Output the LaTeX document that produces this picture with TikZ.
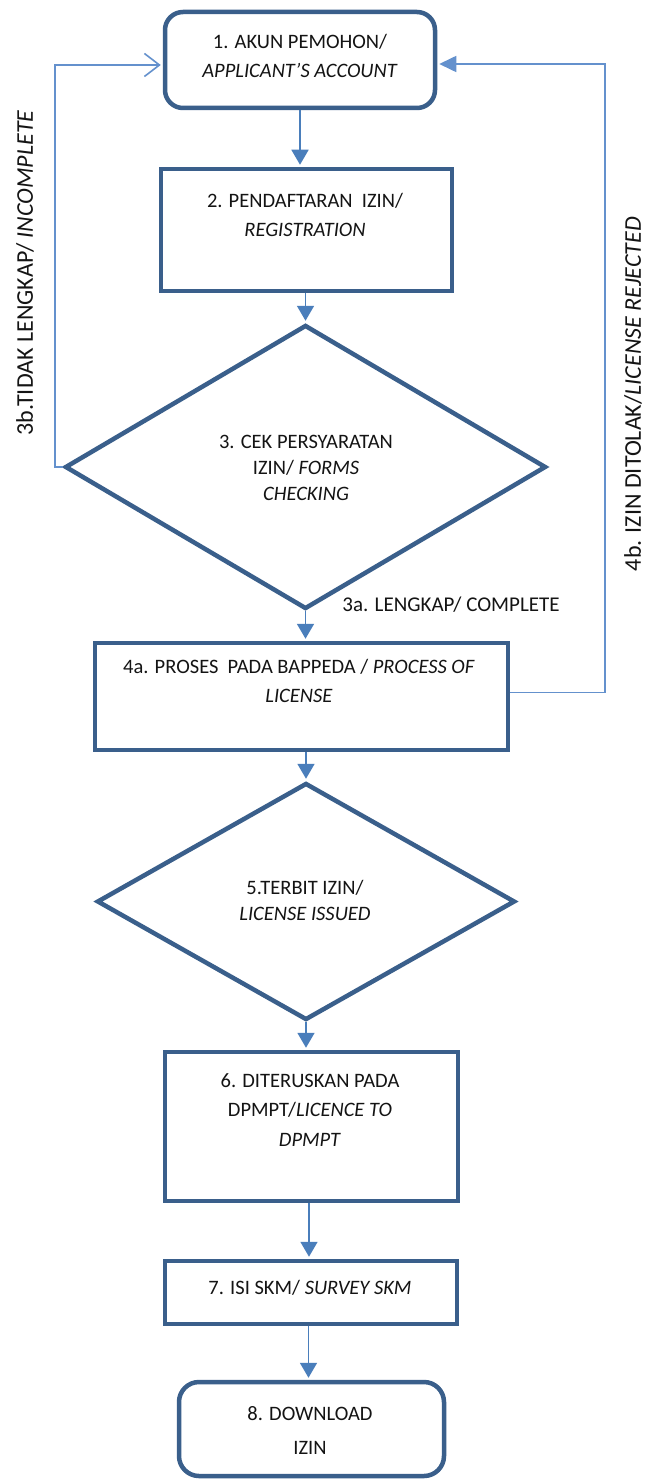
\documentclass[tikz,border=0pt]{standalone}
\usepackage{fontspec}
\setmainfont{Carlito}
\usetikzlibrary{shapes.geometric,arrows.meta,calc}
\definecolor{boxblue}{RGB}{58,95,139}
\definecolor{arrowblue}{RGB}{74,126,187}
\definecolor{fbblue}{RGB}{100,145,205}
\definecolor{txtc}{RGB}{20,20,20}
\begin{document}
\begin{tikzpicture}[x=1pt,y=-1pt,
  boxst/.style={draw=boxblue,line width=4.5pt,rectangle,inner sep=0pt,fill=white},
  roundst/.style={boxst,rounded corners=18pt},
  diast/.style={draw=boxblue,line width=4.5pt,diamond,inner sep=0pt,fill=white},
  txt/.style={text=txtc,align=center,inner sep=0pt,font=\fontsize{20.5}{29.5}\selectfont},
  lbl/.style={text=txtc,inner sep=0pt,font=\fontsize{24}{28}\selectfont},
  arr/.style={draw=arrowblue,line width=1.8pt,-{Triangle[length=15pt,width=17pt]},shorten >=2pt},
  fb/.style={draw=fbblue,line width=1.6pt}
]
\useasboundingbox (0,0) rectangle (645,1479);
\fill[white] (0,0) rectangle (645,1479);

% nodes
\node[roundst,minimum width=270pt,minimum height=96pt] (n1) at (300,60) {};
\node[boxst,minimum width=291pt,minimum height=122pt] (n2) at (306.5,230) {};
\node[diast,minimum width=481pt,minimum height=284pt] (n3) at (305.5,467) {};
\node[boxst,minimum width=413pt,minimum height=107pt] (n4) at (301.5,696.5) {};
\node[diast,minimum width=418pt,minimum height=237pt] (n5) at (306,901.5) {};
\node[boxst,minimum width=293pt,minimum height=149pt] (n6) at (311.5,1126.5) {};
\node[boxst,minimum width=292pt,minimum height=63pt] (n7) at (311,1292.5) {};
\node[roundst,rounded corners=20pt,minimum width=265pt,minimum height=94pt] (n8) at (311.5,1429) {};

% texts
\node[txt] (t1) at (300,56) {1. AKUN PEMOHON/\\\textit{APPLICANT'S ACCOUNT}};
\node[txt] (t2) at (305,215) {2. PENDAFTARAN\ \ IZIN/\\\textit{REGISTRATION}};
\node[txt,font=\fontsize{20.5}{26}\selectfont] (t3) at (306,468) {3. CEK PERSYARATAN\\IZIN/ \textit{FORMS}\\\textit{CHECKING}};
\node[txt] (t4) at (299,681) {4a. PROSES\ \ PADA BAPPEDA / \textit{PROCESS OF}\\\textit{LICENSE}};
\node[txt,font=\fontsize{20.5}{26}\selectfont] (t5) at (305,900) {5.TERBIT IZIN/\\\textit{LICENSE ISSUED}};
\node[txt] (t6) at (310,1110) {6. DITERUSKAN PADA\\DPMPT/\textit{LICENCE TO}\\\textit{DPMPT}};
\node[txt] (t7) at (310,1288) {7. ISI SKM/ \textit{SURVEY SKM}};
\node[txt,font=\fontsize{20.5}{34}\selectfont] (t8) at (310,1430) {8. DOWNLOAD\\IZIN};

% labels
\node[lbl,font=\fontsize{21}{25}\selectfont] (l3a) at (451,605) {3a. LENGKAP/ COMPLETE};
\node[lbl,rotate=90] (l3b) at (25,273) {3b.TIDAK LENGKAP/ \textit{INCOMPLETE}};
\node[lbl,rotate=90] (l4b) at (633,394) {4b. IZIN DITOLAK/\textit{LICENSE REJECTED}};

% main arrows
\draw[arr] (n1.south) -- (n2.north -| n1.south);
\draw[arr] (n3.north |- n2.south) -- (n3.north);
\draw[arr] (n3.south) -- (n4.north -| n3.south);
\draw[arr] (n5.north |- n4.south) -- (n5.north);
\draw[arr] (n5.south) -- (n6.north -| n5.south);
\draw[arr] ([xshift=-2pt]n7.north |- n6.south) -- ([xshift=-2pt]n7.north);
\draw[arr] ([xshift=-3pt]n8.north |- n7.south) -- ([xshift=-3pt]n8.north);

% feedback loops
\draw[fb,-{Straight Barb[length=15pt,width=23pt]},shorten >=2pt]
  (n3.west) -- ++(-8,0) |- ([yshift=-5pt]n1.west);
\draw[fb,-{Triangle[length=17pt,width=16pt]},shorten >=2pt]
  ([yshift=4pt]n4.east) -- ++(95,0) |- ([yshift=-4pt]n1.east);

\end{tikzpicture}
\end{document}
